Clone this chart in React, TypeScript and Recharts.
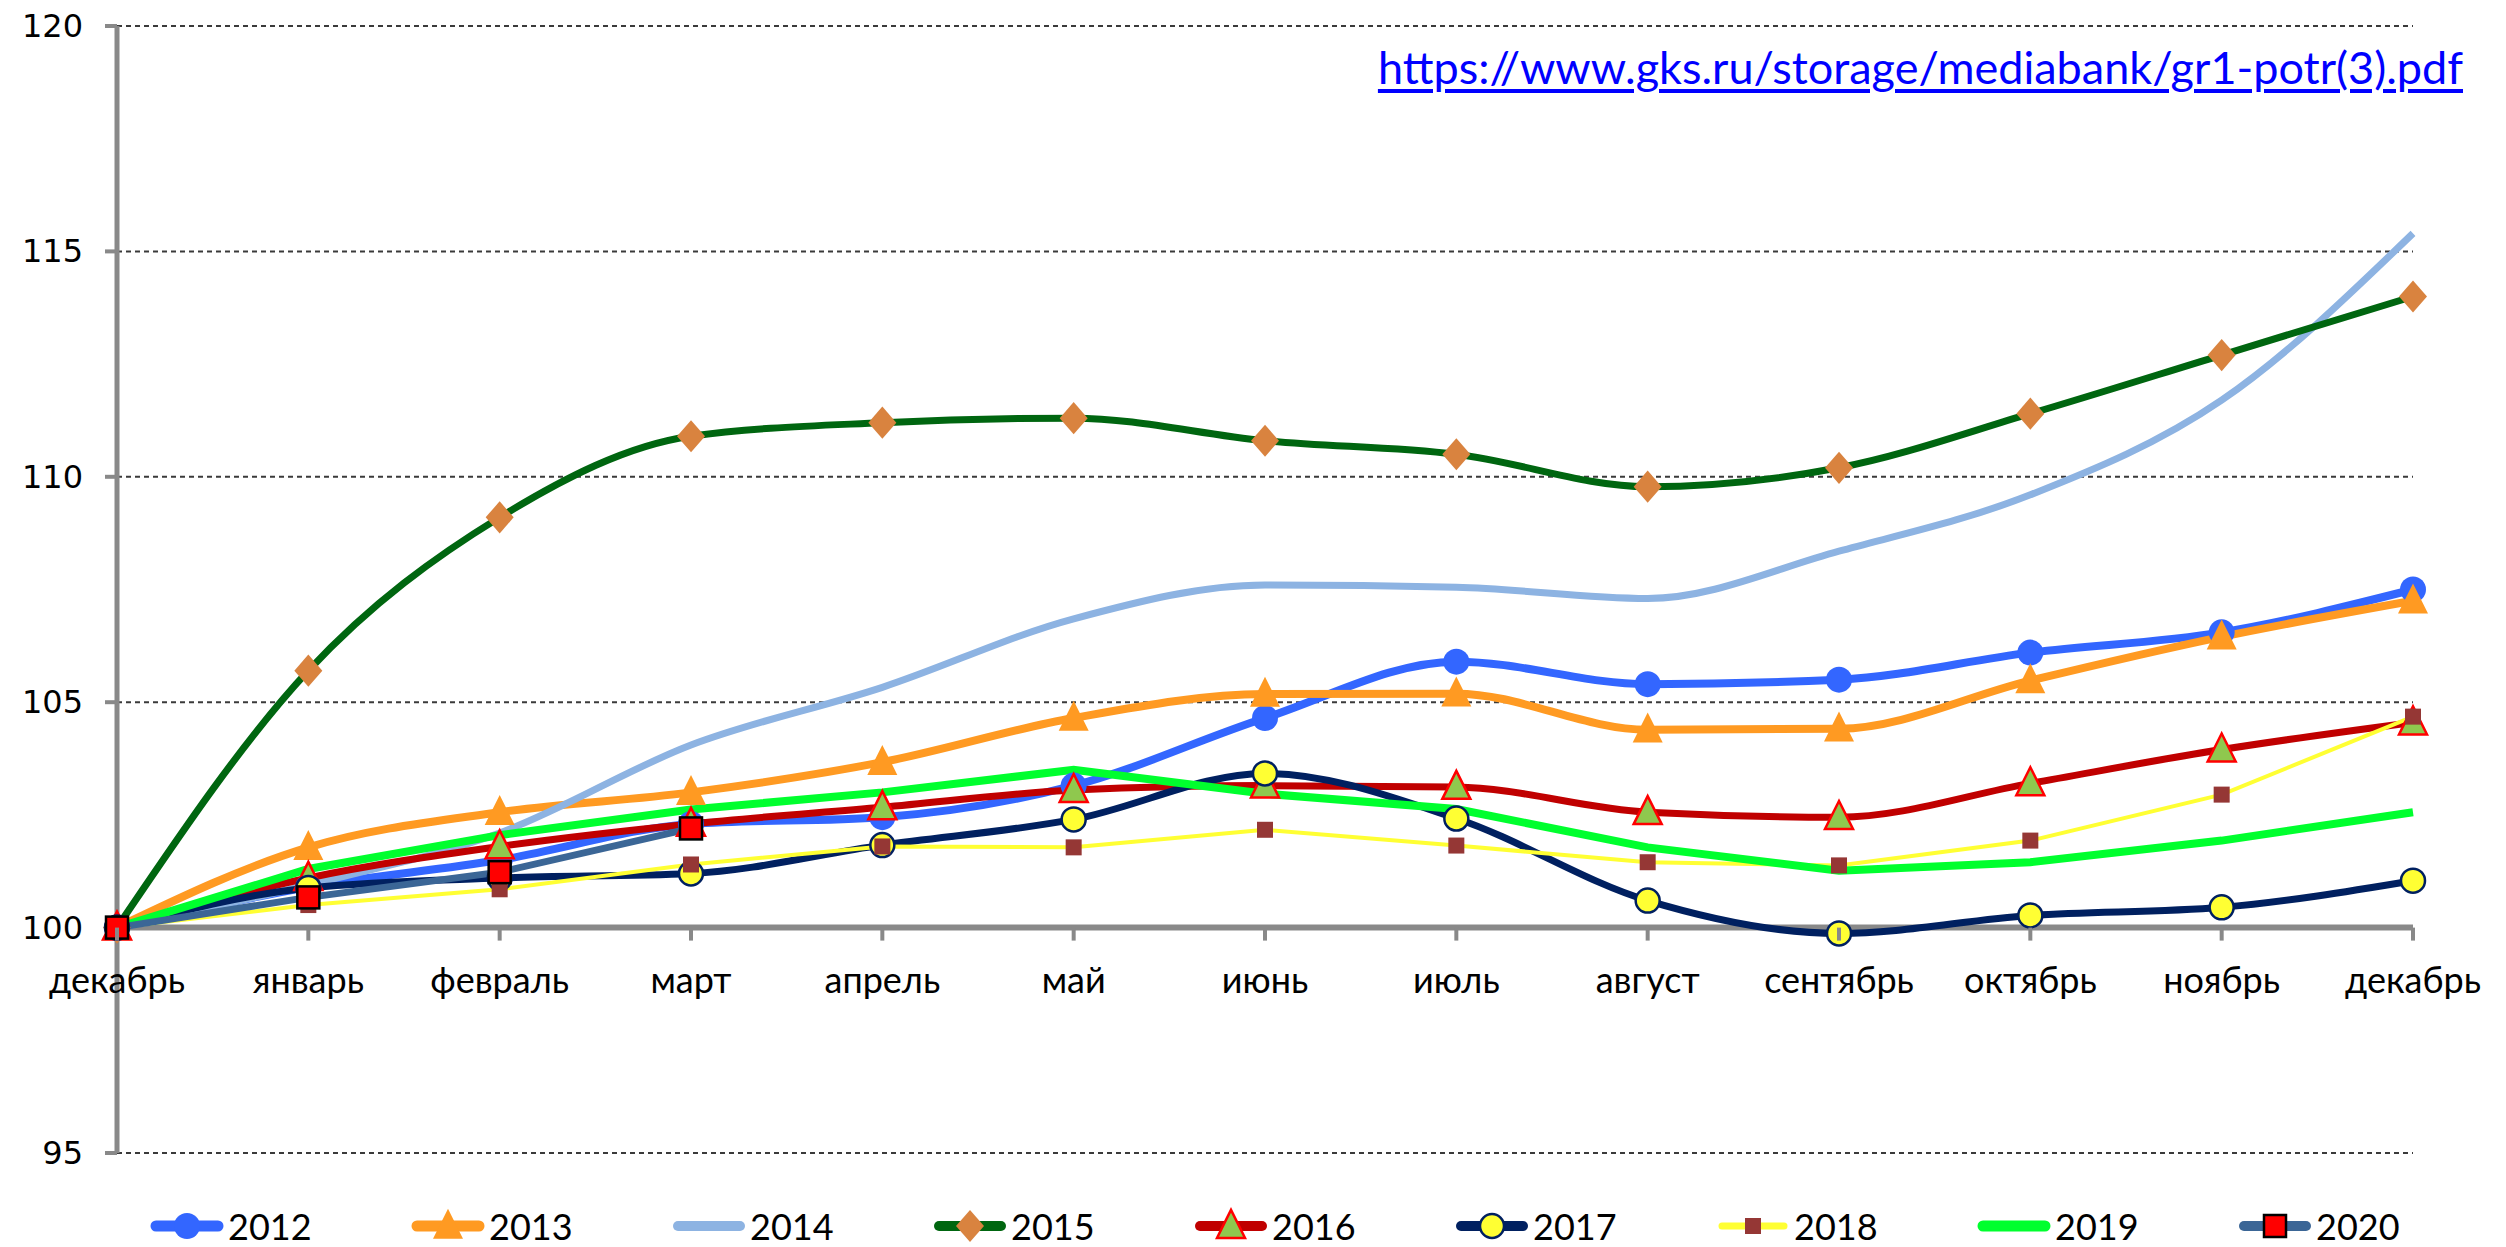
import React from 'react';
import { LineChart, Line, XAxis, YAxis, CartesianGrid, Legend, ReferenceLine } from 'recharts';

const months = ['декабрь', 'январь', 'февраль', 'март', 'апрель', 'май', 'июнь', 'июль', 'август', 'сентябрь', 'октябрь', 'ноябрь', 'декабрь'];
const yTicks = [95, 100, 105, 110, 115, 120];

const v2012 = [100, 100.9, 101.5, 102.3, 102.45, 103.15, 104.65, 105.9, 105.4, 105.5, 106.1, 106.55, 107.5];
const v2013 = [100, 101.78, 102.56, 103.0, 103.67, 104.65, 105.18, 105.19, 104.39, 104.41, 105.48, 106.45, 107.25];
const v2014 = [100, 100.95, 102.1, 104.05, 105.33, 106.85, 107.6, 107.55, 107.3, 108.35, 109.6, 111.7, 115.4];
const v2015 = [100, 105.7, 109.1, 110.9, 111.2, 111.3, 110.8, 110.5, 109.78, 110.2, 111.4, 112.7, 114.0];
const v2016 = [100, 101.1, 101.8, 102.3, 102.67, 103.05, 103.15, 103.12, 102.56, 102.45, 103.2, 103.95, 104.55];
const v2017 = [100, 100.88, 101.1, 101.2, 101.83, 102.4, 103.42, 102.42, 100.6, 99.87, 100.27, 100.45, 101.04];
const v2018 = [100, 100.5, 100.85, 101.4, 101.8, 101.78, 102.17, 101.82, 101.45, 101.38, 101.93, 102.95, 104.68];
const v2019 = [100, 101.3, 102.05, 102.62, 103.0, 103.5, 102.97, 102.63, 101.78, 101.26, 101.45, 101.93, 102.56];
const v2020 = [100, 100.67, 101.23, 102.2];

const SOURCE_URL = 'https://www.gks.ru/storage/mediabank/gr1-potr(3).pdf';

const FONT = "Lato, 'Noto Sans', sans-serif";
const Y_FONT = "'DejaVu Sans', Verdana, sans-serif";
const AXIS_GRAY = '#898989';

const W = 2506;
const H = 1247;
const MARGIN = { top: 26, right: 93, left: 0, bottom: 0 };
const LEGEND_H = 92;
const X_AXIS_H = 2;
const PLOT_H = H - MARGIN.top - MARGIN.bottom - LEGEND_H - X_AXIS_H;
const PLOT_BOTTOM = MARGIN.top + PLOT_H;
const Y_MIN = 95;
const Y_MAX = 120;
// the category axis crosses at 100, not at the bottom of the plot
const AXIS_Y = PLOT_BOTTOM - (PLOT_H * (100 - Y_MIN)) / (Y_MAX - Y_MIN);

type Marker = 'circle' | 'triangle' | 'diamond' | 'square' | 'none';

interface SeriesStyle {
  key: string;
  color: string;
  width: number;
  smooth: boolean;
  marker: Marker;
  fill?: string;
  stroke?: string;
  size?: number;
}

const series: SeriesStyle[] = [
  { key: '2012', color: '#3366FF', width: 8, smooth: true, marker: 'circle', fill: '#3366FF', size: 13 },
  { key: '2013', color: '#FF9A22', width: 8, smooth: true, marker: 'triangle', fill: '#FF9A22', size: 15 },
  { key: '2014', color: '#8DB3E2', width: 7, smooth: true, marker: 'none' },
  { key: '2015', color: '#006610', width: 7, smooth: true, marker: 'diamond', fill: '#D9833F', size: 14 },
  { key: '2016', color: '#C00000', width: 7, smooth: true, marker: 'triangle', fill: '#8FC84E', stroke: '#FF0000', size: 14 },
  { key: '2017', color: '#002060', width: 7, smooth: true, marker: 'circle', fill: '#FFFF33', stroke: '#002060', size: 12 },
  { key: '2018', color: '#FFFF33', width: 4, smooth: false, marker: 'square', fill: '#953735', size: 8 },
  { key: '2019', color: '#00FF2E', width: 8, smooth: false, marker: 'none' },
  { key: '2020', color: '#3B6696', width: 7, smooth: false, marker: 'square', fill: '#FF0000', stroke: '#000000', size: 11 },
];

const valuesByYear: Record<string, (number | null)[]> = {
  '2012': v2012, '2013': v2013, '2014': v2014, '2015': v2015, '2016': v2016,
  '2017': v2017, '2018': v2018, '2019': v2019, '2020': v2020,
};

const data = months.map((m, i) => {
  const row: Record<string, string | number | null> = { month: m };
  Object.keys(valuesByYear).forEach(k => {
    const v = valuesByYear[k][i];
    row[k] = v === undefined ? null : v;
  });
  return row;
});

function markerShape(s: SeriesStyle, cx: number, cy: number, key?: string) {
  const r = s.size || 10;
  const sw = s.stroke ? 2.5 : 0;
  const common = { fill: s.fill, stroke: s.stroke || 'none', strokeWidth: sw };
  switch (s.marker) {
    case 'circle':
      return <circle key={key} cx={cx} cy={cy} r={r} {...common} />;
    case 'triangle':
      return (
        <polygon
          key={key}
          points={`${cx},${cy - r * 1.15} ${cx - r},${cy + r * 0.85} ${cx + r},${cy + r * 0.85}`}
          {...common}
        />
      );
    case 'diamond':
      return (
        <polygon
          key={key}
          points={`${cx},${cy - r * 1.15} ${cx + r},${cy} ${cx},${cy + r * 1.15} ${cx - r},${cy}`}
          {...common}
        />
      );
    case 'square':
      return <rect key={key} x={cx - r} y={cy - r} width={r * 2} height={r * 2} {...common} />;
    default:
      return <g key={key} />;
  }
}

const makeDot = (s: SeriesStyle) => (props: any) => {
  const { cx, cy, value, index } = props;
  const k = `${s.key}-${index}`;
  if (s.marker === 'none' || value == null || cx == null || cy == null) return <g key={k} />;
  return markerShape(s, cx, cy, k);
};

const renderXTick = (props: any) => {
  const { x, payload, index } = props;
  return (
    <g key={`xt-${index}`}>
      <line x1={x} x2={x} y1={AXIS_Y} y2={AXIS_Y + 13} stroke={AXIS_GRAY} strokeWidth={4} />
      <text x={x} y={AXIS_Y + 51} textAnchor="middle" dominantBaseline="central" fontSize={36} fill="#000" fontFamily={FONT}>
        {payload.value}
      </text>
    </g>
  );
};

const renderYTick = (props: any) => {
  const { x, y, payload, index } = props;
  return (
    <text key={`yt-${index}`} x={x - 22} y={y} textAnchor="end" dominantBaseline="central" fontSize={32} fill="#000" fontFamily={Y_FONT}>
      {payload.value}
    </text>
  );
};

const LegendContent = () => (
  <div style={{ height: LEGEND_H, position: 'relative', fontFamily: FONT }}>
    <div style={{ position: 'absolute', top: 54, left: 150, display: 'flex' }}>
      {series.map(s => (
        <div key={s.key} style={{ width: 261, height: 34, display: 'flex', alignItems: 'center' }}>
          <svg width={74} height={34} style={{ overflow: 'visible' }}>
            <line x1={6} x2={68} y1={17} y2={17} stroke={s.color} strokeWidth={s.width + 3} strokeLinecap="round" />
            {markerShape(s, 37, 17)}
          </svg>
          <span style={{ fontSize: 36, marginLeft: 4, color: '#000', lineHeight: '34px' }}>{s.key}</span>
        </div>
      ))}
    </div>
  </div>
);

export default function App() {
  return (
    <div style={{ position: 'absolute', left: 0, top: 0, width: W, height: H, background: '#fff' }}>
      <LineChart width={W} height={H} data={data} margin={MARGIN}>
        <CartesianGrid horizontal vertical={false} stroke="#3a3a3a" strokeDasharray="5 4" strokeWidth={2} />
        <XAxis
          dataKey="month"
          height={X_AXIS_H}
          axisLine={false}
          tickLine={false}
          interval={0}
          tick={renderXTick}
        />
        <YAxis
          domain={[Y_MIN, Y_MAX]}
          ticks={yTicks}
          width={117}
          axisLine={{ stroke: AXIS_GRAY, strokeWidth: 5 }}
          tickLine={{ stroke: AXIS_GRAY, strokeWidth: 4 }}
          tickSize={12}
          tickMargin={0}
          tick={renderYTick}
        />
        <ReferenceLine y={100} stroke={AXIS_GRAY} strokeWidth={6} />
        <Legend verticalAlign="bottom" content={<LegendContent />} wrapperStyle={{ left: 0, width: W, height: LEGEND_H }} />
        {series.map(s => (
          <Line
            key={s.key}
            dataKey={s.key}
            name={s.key}
            type={s.smooth ? 'monotone' : 'linear'}
            stroke={s.color}
            strokeWidth={s.width}
            dot={makeDot(s)}
            activeDot={false}
            connectNulls={false}
            isAnimationActive={false}
          />
        ))}
      </LineChart>
      <div
        style={{
          position: 'absolute',
          right: 43,
          top: 40,
          fontFamily: FONT,
          fontSize: 45,
          color: '#0000FF',
          textDecoration: 'underline',
          textDecorationThickness: 4,
          textUnderlineOffset: 5,
          whiteSpace: 'nowrap',
        }}
      >
        {SOURCE_URL}
      </div>
    </div>
  );
}
